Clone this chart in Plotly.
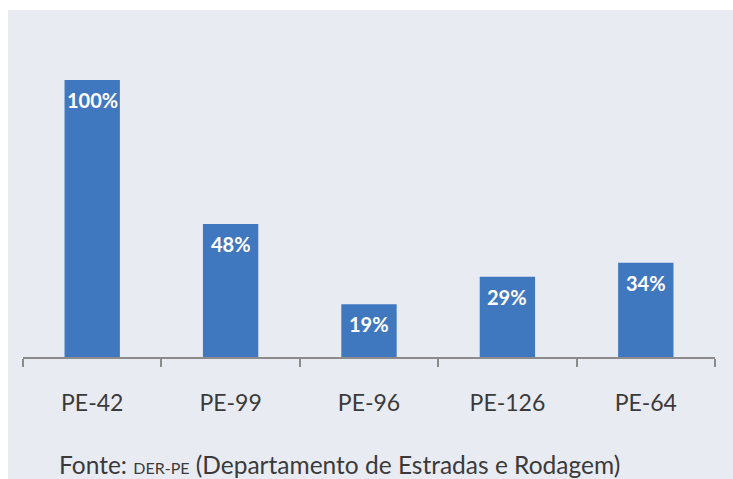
import plotly.graph_objects as go

categories = ["PE-42", "PE-99", "PE-96", "PE-126", "PE-64"]
values = [100, 48, 19, 29, 34]
labels = ["100%", "48%", "19%", "29%", "34%"]
footnote = "Fonte: <span style='font-size:16px'>DER-PE</span> (Departamento de Estradas e Rodagem)"

# page body has 8px margin on top/left; figure sits at (8, 8) in the window
W, H = 725, 471
ML, MR, MT, MB = 15, 18, 2, 122
pw, ph = W - ML - MR, H - MT - MB

panel = "#E9EBF3"
bar_color = "#3F78BF"
text_color = "#3A3A3A"
font_family = "Lato, 'Open Sans', sans-serif"

fig = go.Figure()
fig.add_trace(go.Bar(
    x=categories, y=values, marker=dict(color=bar_color, line=dict(width=0)),
    hoverinfo="skip",
))

for c, v, t in zip(categories, values, labels):
    fig.add_annotation(x=c, y=v, text="<b>" + t + "</b>", showarrow=False, yanchor="top", yshift=-6,
                       font=dict(family=font_family, size=20, color="white"),
                       xref="x", yref="y")

fig.add_annotation(x=(49 - ML) / pw, y=(MT + ph - 456) / ph, xref="paper", yref="paper",
                   text=footnote, showarrow=False, xanchor="left", yanchor="middle",
                   font=dict(family=font_family, size=24.5, color=text_color))

# thin white strip at top
fig.add_shape(type="rect", xref="paper", yref="paper",
              x0=-ML / pw, x1=(W - ML) / pw, y0=1, y1=(ph + MT) / ph,
              fillcolor="white", line=dict(width=0), layer="below")

fig.update_layout(
    width=W, height=H, margin=dict(l=ML, r=MR, t=MT, b=MB),
    paper_bgcolor=panel, plot_bgcolor=panel,
    bargap=0.6, showlegend=False,
    font=dict(family=font_family, color=text_color),
)
fig.update_xaxes(
    range=[-0.5, 4.5], showline=True, linecolor="#8C8C8C", linewidth=1.5,
    ticks="outside", tickson="boundaries", ticklen=8, tickcolor="#8C8C8C", tickwidth=1.5,
    tickfont=dict(family=font_family, size=23, color=text_color),
    ticklabelstandoff=25, showgrid=False, zeroline=False,
)
fig.update_yaxes(range=[0, ph / 2.77], visible=False, showgrid=False, zeroline=False)

fig.write_html("out.html",
               post_script="document.body.style.margin='8px 0 0 8px';document.documentElement.style.overflow='hidden';")
